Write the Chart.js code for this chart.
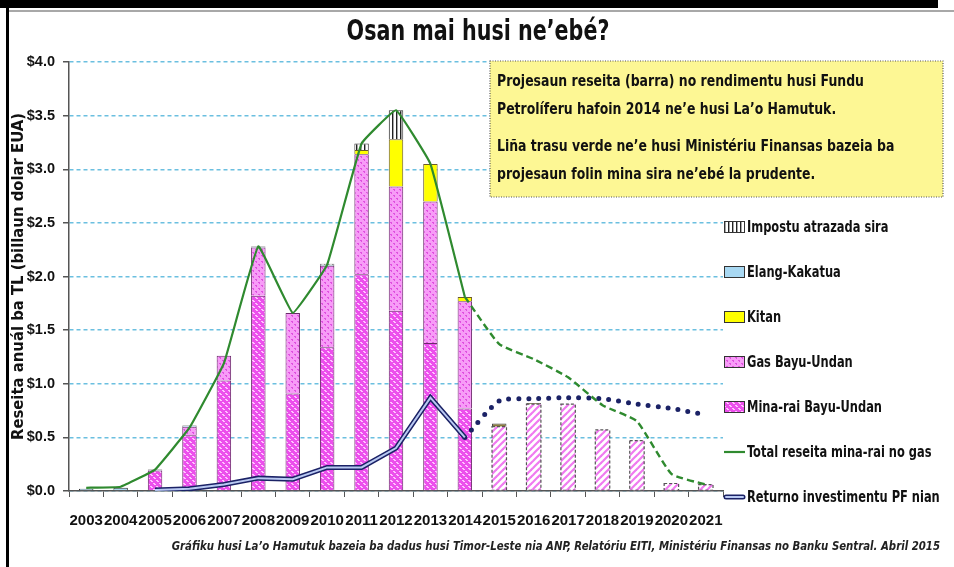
<!DOCTYPE html>
<html><head><meta charset="utf-8">
<script src="https://cdn.jsdelivr.net/npm/chart.js@4/dist/chart.umd.min.js"></script>
<style>html,body{margin:0;padding:0;background:#fff}#wrap{width:954px;height:567px;position:relative}</style>
</head><body><div id="wrap"><canvas id="c"></canvas></div>
<script>
const FONT = "'Liberation Sans Narrow','Arial Narrow','DejaVu Sans Condensed',sans-serif";
const TICKFONT = "'Liberation Sans','Arial',sans-serif";

const years = ['2003','2004','2005','2006','2007','2008','2009','2010','2011','2012','2013','2014','2015','2016','2017','2018','2019','2020','2021'];
const yTicks = [0, 0.5, 1.0, 1.5, 2.0, 2.5, 3.0, 3.5, 4.0];

const minaRai  = [0, 0, 0.19, 0.52, 1.03, 1.82, 0.91, 1.34, 2.02, 1.68, 1.38, 0.77, 0, 0, 0, 0, 0, 0, 0];
const gasBU    = [0, 0, 0, 0.08, 0.23, 0.45, 0.75, 0.76, 1.12, 1.16, 1.32, 1.00, 0, 0, 0, 0, 0, 0, 0];
const kitan    = [0, 0, 0, 0, 0, 0, 0, 0, 0.04, 0.44, 0.35, 0.04, 0, 0, 0, 0, 0, 0, 0];
const elang    = [0.02, 0.03, 0.01, 0.01, 0, 0.01, 0, 0.01, 0, 0, 0, 0, 0, 0, 0, 0, 0, 0, 0];
const impostu  = [0, 0, 0, 0, 0, 0, 0, 0.01, 0.06, 0.27, 0, 0, 0, 0, 0, 0, 0, 0, 0];
const projesaun     = [null, null, null, null, null, null, null, null, null, null, null, null, 0.60, 0.81, 0.81, 0.57, 0.47, 0.07, 0.06];
const projesaunTop  = [null, null, null, null, null, null, null, null, null, null, null, null, 0.03, 0.01, null, null, null, null, null];

const totalReseita     = [0.03, 0.04, 0.20, 0.59, 1.19, 2.28, 1.66, 2.11, 3.24, 3.55, 3.05, 1.81, null, null, null, null, null, null, null];
const totalProjesaun   = [null, null, null, null, null, null, null, null, null, null, null, 1.81, 1.37, 1.23, 1.06, 0.80, 0.65, 0.16, 0.06];
const returnoPF        = [null, null, 0.01, 0.02, 0.06, 0.12, 0.11, 0.22, 0.22, 0.40, 0.87, 0.50, null, null, null, null, null, null, null];
const returnoProjesaun = [null, null, null, null, null, null, null, null, null, null, null, 0.50, 0.84, 0.86, 0.87, 0.86, 0.81, 0.77, 0.71];

const titleText = 'Osan mai husi ne’ebé?';
const yTitle = 'Reseita anuál ba TL (billaun dolar EUA)';
const noteLines = [
  'Projesaun reseita (barra) no rendimentu husi Fundu',
  'Petrolíferu hafoin 2014 ne’e husi La’o Hamutuk.',
  'Liña trasu verde ne’e husi Ministériu Finansas bazeia ba',
  'projesaun folin mina sira ne’ebé la prudente.'
];
const footerText = 'Gráfiku husi La’o Hamutuk bazeia ba dadus husi Timor-Leste nia ANP, Relatóriu EITI, Ministériu Finansas no Banku Sentral. Abril 2015';

const canvas = document.getElementById('c');
const mctx = canvas.getContext('2d');
function makePattern(w, h, draw) {
  const t = document.createElement('canvas'); t.width = w; t.height = h;
  const x = t.getContext('2d'); draw(x, w, h);
  return mctx.createPattern(t, 'repeat');
}
const minaPat = makePattern(6, 6, (x) => {
  x.fillStyle = '#ec4fec'; x.fillRect(0, 0, 6, 6);
  x.fillStyle = '#ffc4ff';
  x.fillRect(0, 0, 2, 1); x.fillRect(1, 1, 2, 1); x.fillRect(3, 3, 2, 1); x.fillRect(4, 4, 2, 1);
});
const gasPat = makePattern(6, 6, (x) => {
  x.fillStyle = '#f79cf7'; x.fillRect(0, 0, 6, 6);
  x.fillStyle = '#e050e0';
  x.fillRect(0, 0, 2, 1); x.fillRect(1, 1, 1, 1); x.fillRect(3, 3, 2, 1); x.fillRect(4, 4, 1, 1);
});
const projPat = makePattern(7, 7, (x) => {
  x.fillStyle = '#ffffff'; x.fillRect(0, 0, 7, 7);
  x.strokeStyle = '#f07af0'; x.lineWidth = 2.2;
  x.beginPath(); x.moveTo(-1, 8); x.lineTo(8, -1); x.stroke();
  x.beginPath(); x.moveTo(-1, 1); x.lineTo(1, -1); x.stroke();
  x.beginPath(); x.moveTo(6, 8); x.lineTo(8, 6); x.stroke();
});
const impPat = makePattern(4, 4, (x) => {
  x.fillStyle = '#ffffff'; x.fillRect(0, 0, 4, 4);
  x.fillStyle = '#222'; x.fillRect(0, 0, 1.4, 4);
});

const GREEN = '#2f8a2f';
const NAVY = '#1b2266';

const datasets = [
  { label: 'Mina-rai Bayu-Undan', data: minaRai, backgroundColor: minaPat, borderColor: '#6a2a6a', borderWidth: 1, stack: 'bars', order: 2, legend: {kind: 'box', rank: 5} },
  { label: 'Gas Bayu-Undan', data: gasBU, backgroundColor: gasPat, borderColor: '#6a2a6a', borderWidth: 1, stack: 'bars', order: 2, legend: {kind: 'box', rank: 4} },
  { label: 'Kitan', data: kitan, backgroundColor: '#ffff00', borderColor: '#6b5a2a', borderWidth: 1, stack: 'bars', order: 2, legend: {kind: 'box', rank: 3} },
  { label: 'Elang-Kakatua', data: elang, backgroundColor: '#a8d8f2', borderColor: '#333', borderWidth: 1, stack: 'bars', order: 2, legend: {kind: 'box', rank: 2} },
  { label: 'Impostu atrazada sira', data: impostu, backgroundColor: impPat, borderColor: '#333', borderWidth: 1, stack: 'bars', order: 2, legend: {kind: 'box', rank: 1} },
  { label: 'Projesaun', data: projesaun, backgroundColor: projPat, borderWidth: 0, stack: 'bars', order: 2, projected: true },
  { label: 'Projesaun Kitan', data: projesaunTop, backgroundColor: '#8a7a3a', borderColor: '#444', borderWidth: 1, stack: 'bars', order: 2 },
  { type: 'line', label: 'Total reseita mina-rai no gas', data: totalReseita, borderColor: GREEN, borderWidth: 2.2, pointRadius: 0, tension: 0.08, stack: 'l1', order: 0, legend: {kind: 'line', rank: 6} },
  { type: 'line', label: 'Total projesaun', data: totalProjesaun, borderColor: GREEN, borderWidth: 2.4, borderDash: [7, 4], pointRadius: 0, tension: 0.15, stack: 'l2', order: 0 },
  { type: 'line', label: 'Returno investimentu PF nian', data: returnoPF, borderColor: NAVY, borderWidth: 5, pointRadius: 0, tension: 0, stack: 'l3', order: 1, legend: {kind: 'dline', rank: 7} },
  { type: 'line', label: 'Returno (interior)', data: returnoPF, borderColor: '#b9c9f2', borderWidth: 2, pointRadius: 0, tension: 0, stack: 'l4', order: 0 },
  { type: 'line', label: 'Returno projesaun', data: returnoProjesaun, borderColor: NAVY, borderWidth: 5, borderDash: [0, 10], borderCapStyle: 'round', pointRadius: 0, tension: 0.2, stack: 'l5', order: 0 }
];

function drawText(c, text, x, y, size, scaleX, style, align) {
  c.save();
  c.font = (style || 'bold') + ' ' + size + 'px ' + FONT;
  c.textBaseline = 'middle';
  c.textAlign = align || 'left';
  c.translate(x, y);
  c.scale(scaleX, 1);
  c.fillText(text, 0, 0);
  c.restore();
}

const decoPlugin = {
  id: 'deco',
  beforeDraw(chart) {
    const c = chart.ctx;
    c.save();
    c.fillStyle = '#fff'; c.fillRect(0, 0, chart.width, chart.height);
    c.fillStyle = '#000'; c.fillRect(0, 0, 938, 8);
    c.fillRect(6, 0, 3, chart.height);
    c.fillStyle = '#a8a8a8'; c.fillRect(9, 10, chart.width - 9, 2);
    c.fillStyle = '#111';
    drawText(c, titleText, 478, 33, 28, 0.82, 'bold', 'center');
    c.fillStyle = '#222';
    drawText(c, footerText, 940, 547, 13, 0.87, 'italic bold', 'right');
    c.restore();
  },
  afterDatasetDraw(chart, args) {
    const ds = chart.data.datasets[args.index];
    if (!ds.projected) return;
    const c = chart.ctx;
    c.save();
    c.strokeStyle = '#555'; c.lineWidth = 1.2; c.setLineDash([3, 2]);
    args.meta.data.forEach((el, i) => {
      if (ds.data[i] == null) return;
      const p = el.getProps(['x', 'y', 'base', 'width'], true);
      c.strokeRect(p.x - p.width / 2, p.y, p.width, p.base - p.y);
    });
    c.restore();
  },
  afterDraw(chart) {
    const c = chart.ctx;
    const area = chart.chartArea;
    c.save();
    // note box
    const bx = 490, by = 61, bw = 453, bh = 136;
    c.fillStyle = '#fdf794';
    c.fillRect(bx, by, bw, bh);
    c.strokeStyle = '#555'; c.lineWidth = 1.2; c.setLineDash([1, 1.5]);
    c.strokeRect(bx, by, bw, bh);
    c.setLineDash([]);
    c.fillStyle = '#111';
    const ys = [82, 110, 147, 175];
    noteLines.forEach((t, i) => drawText(c, t, 497, ys[i], 16.5, 0.84));
    // legend
    const items = chart.data.datasets.filter(d => d.legend).sort((a, b) => a.legend.rank - b.legend.rank);
    const lx = area.right + 1;
    items.forEach((d, i) => {
      const y = 227 + i * 45;
      if (d.legend.kind === 'box') {
        c.fillStyle = d.backgroundColor;
        c.fillRect(lx, y - 6, 21, 12);
        c.strokeStyle = '#333'; c.lineWidth = 1;
        c.strokeRect(lx + 0.5, y - 5.5, 20, 11);
      } else if (d.legend.kind === 'line') {
        c.strokeStyle = d.borderColor; c.lineWidth = 2.2;
        c.beginPath(); c.moveTo(lx, y); c.lineTo(lx + 21, y); c.stroke();
      } else {
        c.strokeStyle = NAVY; c.lineWidth = 5; c.lineCap = 'round';
        c.beginPath(); c.moveTo(lx + 2, y); c.lineTo(lx + 19, y); c.stroke();
        c.strokeStyle = '#b9c9f2'; c.lineWidth = 2;
        c.beginPath(); c.moveTo(lx + 2, y); c.lineTo(lx + 19, y); c.stroke();
        c.lineCap = 'butt';
      }
      c.fillStyle = '#111';
      drawText(c, d.label, lx + 23, y + 1, 15.5, 0.82);
    });
    c.restore();
  }
};

new Chart(canvas, {
  type: 'bar',
  data: { labels: years, datasets },
  plugins: [decoPlugin],
  options: {
    responsive: true, maintainAspectRatio: false, animation: false,
    layout: { padding: { top: 62, right: 14, bottom: 22, left: 0 } },
    datasets: { bar: { barPercentage: 0.42, categoryPercentage: 1.0 } },
    plugins: {
      legend: { display: false },
      tooltip: { enabled: false },
      title: { display: false },
      subtitle: { display: false }
    },
    scales: {
      x: {
        stacked: true, offset: true,
        grid: { display: true, offset: true, drawOnChartArea: false, drawTicks: true, tickLength: 6, color: '#555', lineWidth: 1 },
        border: { display: true, color: '#555', width: 1.5 },
        ticks: { autoSkip: false, maxRotation: 0, color: '#111', padding: 15, font: { family: TICKFONT, size: 15, weight: 'bold' } }
      },
      y: {
        stacked: true, min: 0, max: 4,
        afterBuildTicks(scale) { scale.ticks = yTicks.map(v => ({ value: v })); },
        afterFit(scale) { scale.width = 69; },
        grid: { color: '#6bbfe0', lineWidth: 1.5, tickColor: '#555', tickLength: 6, drawTicks: true },
        border: { display: true, color: '#555', width: 1.5, dash: [4, 3] },
        ticks: { color: '#111', padding: 8, font: { family: TICKFONT, size: 14.5, weight: 'bold' }, callback: v => '$' + Number(v).toFixed(1) },
        title: { display: true, text: yTitle, color: '#111', font: { family: FONT, size: 16.5, weight: 'bold' }, padding: { top: 9, bottom: 2 } }
      },
      y2: {
        position: 'right', display: true, min: 0, max: 4,
        afterFit(scale) { scale.width = 217; },
        grid: { display: false, drawTicks: false }, border: { display: false }, ticks: { display: false }
      }
    }
  }
});
</script>
</body></html>
